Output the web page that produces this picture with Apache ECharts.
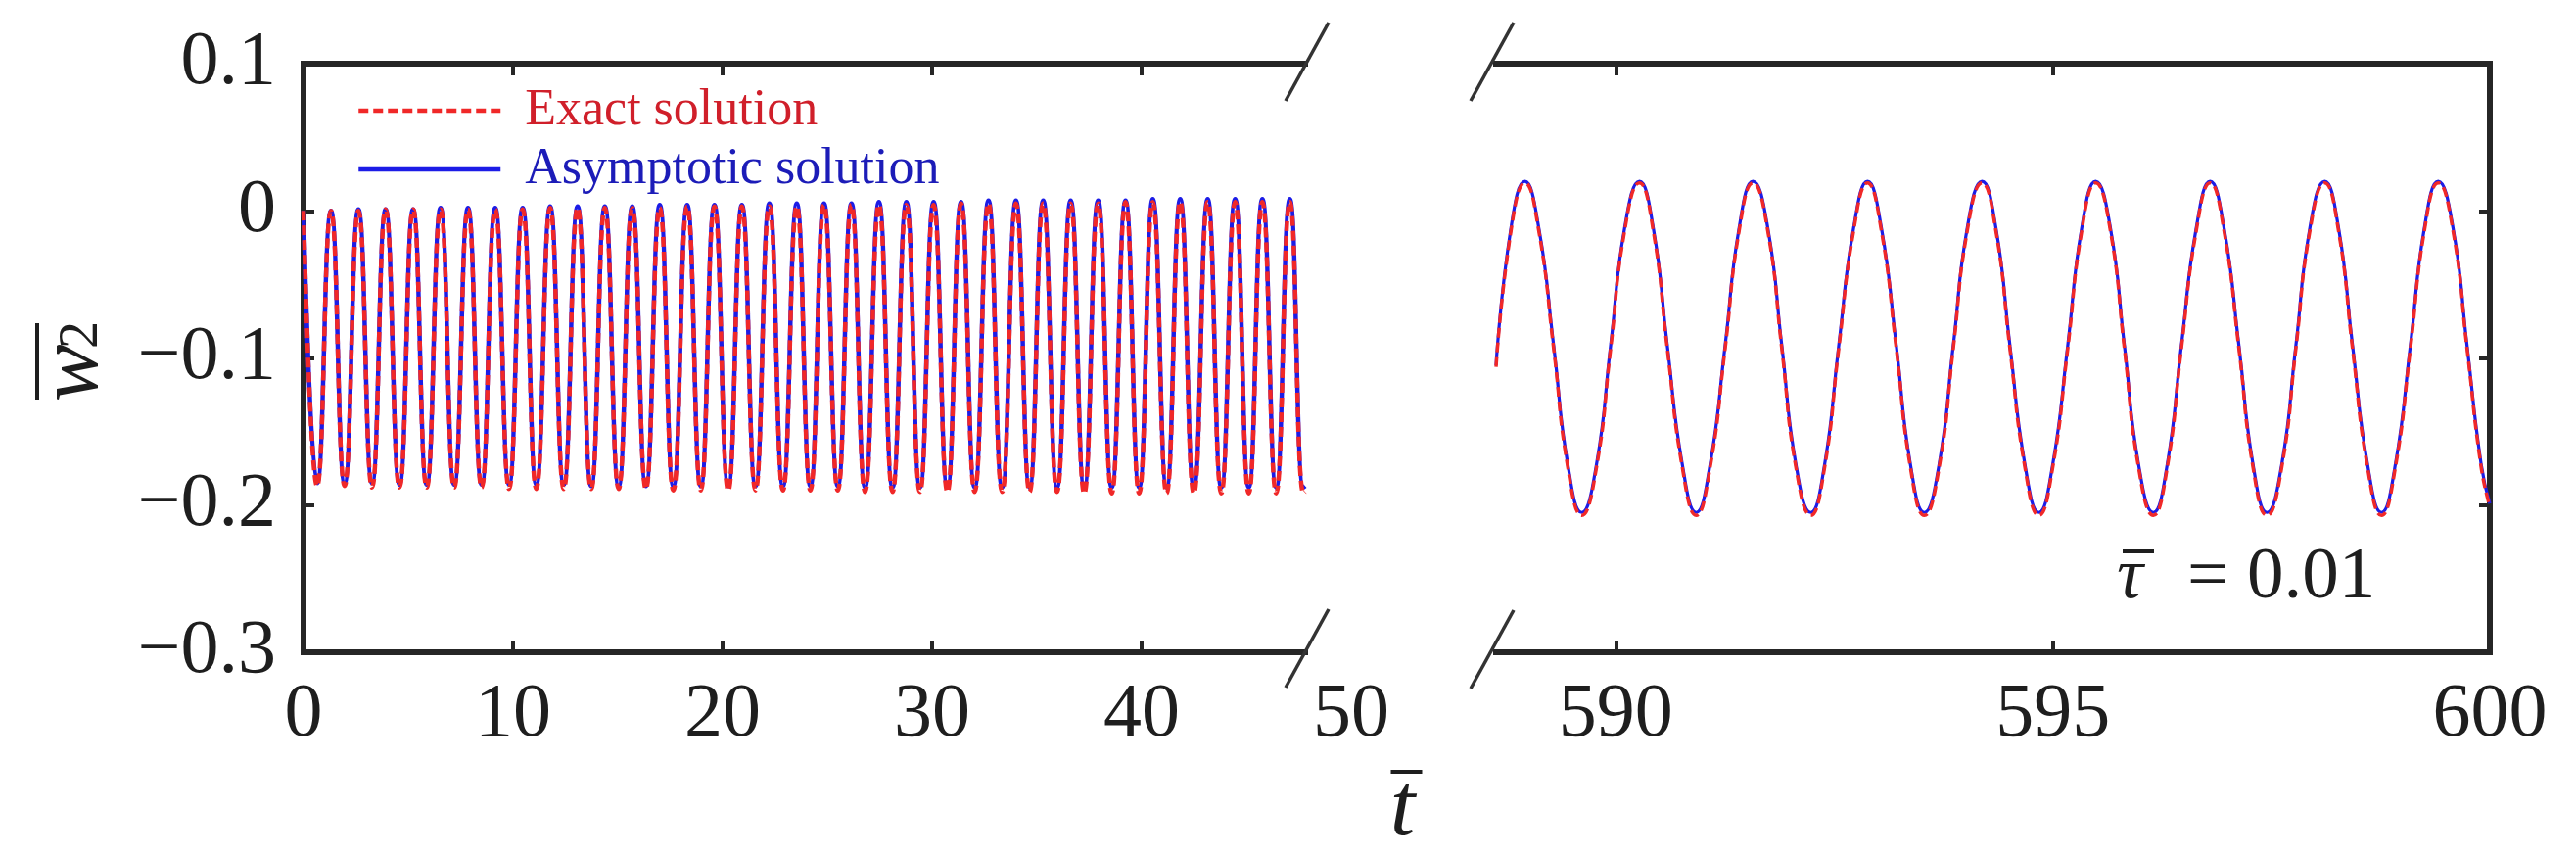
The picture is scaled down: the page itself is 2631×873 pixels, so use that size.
<!DOCTYPE html>
<html>
<head>
<meta charset="utf-8">
<title>w2 - t</title>
<script src="https://cdn.jsdelivr.net/npm/echarts@6.0.0/dist/echarts.min.js"></script>
<style>
  html, body { margin: 0; padding: 0; background: #fff; }
  #chart { width: 2631px; height: 873px; }
</style>
</head>
<body>
<div id="chart"></div>
<script>
// 左段 (0 ~ 47.8)：读取的波峰 / 波谷
const leftT = [
  0.00, 0.65, 1.31, 1.96, 2.62, 3.27, 3.92, 4.58, 5.23, 5.88,
  6.54, 7.19, 7.85, 8.50, 9.15, 9.81, 10.46, 11.11, 11.77, 12.42,
  13.08, 13.73, 14.38, 15.04, 15.69, 16.34, 17.00, 17.65, 18.31, 18.96,
  19.61, 20.27, 20.92, 21.57, 22.23, 22.88, 23.54, 24.19, 24.84, 25.50,
  26.15, 26.80, 27.46, 28.11, 28.77, 29.42, 30.07, 30.73, 31.38, 32.03,
  32.69, 33.34, 34.00, 34.65, 35.30, 35.96, 36.61, 37.26, 37.92, 38.57,
  39.23, 39.88, 40.53, 41.19, 41.84, 42.49, 43.15, 43.80, 44.46, 45.11,
  45.76, 46.42, 47.07, 47.72, 47.80,
]
const leftExact = [
  0.000, -0.187, 0.000, -0.187, 0.000, -0.188, 0.001, -0.188, 0.001, -0.188,
  0.001, -0.188, 0.001, -0.188, 0.001, -0.189, 0.001, -0.189, 0.002, -0.189,
  0.002, -0.189, 0.002, -0.189, 0.002, -0.189, 0.002, -0.190, 0.003, -0.190,
  0.003, -0.190, 0.003, -0.190, 0.003, -0.190, 0.003, -0.190, 0.004, -0.190,
  0.004, -0.191, 0.004, -0.191, 0.004, -0.191, 0.004, -0.191, 0.005, -0.191,
  0.005, -0.191, 0.005, -0.191, 0.005, -0.191, 0.005, -0.192, 0.005, -0.192,
  0.006, -0.192, 0.006, -0.192, 0.006, -0.192, 0.006, -0.192, 0.006, -0.192,
  0.006, -0.192, 0.006, -0.192, -0.191,
]
const leftAsym = [
  0.000, -0.185, 0.000, -0.185, 0.001, -0.185, 0.001, -0.186, 0.001, -0.186,
  0.002, -0.186, 0.002, -0.186, 0.002, -0.186, 0.002, -0.186, 0.003, -0.186,
  0.003, -0.187, 0.003, -0.187, 0.003, -0.187, 0.004, -0.187, 0.004, -0.187,
  0.004, -0.187, 0.004, -0.187, 0.005, -0.187, 0.005, -0.187, 0.005, -0.187,
  0.005, -0.188, 0.006, -0.188, 0.006, -0.188, 0.006, -0.188, 0.006, -0.188,
  0.007, -0.188, 0.007, -0.188, 0.007, -0.188, 0.007, -0.188, 0.007, -0.188,
  0.007, -0.188, 0.008, -0.188, 0.008, -0.188, 0.008, -0.188, 0.008, -0.188,
  0.008, -0.188, 0.008, -0.188, -0.187,
]

// 右段 (588.63 ~ 600)
const rightT = [
  588.63, 588.80, 588.96, 589.12, 589.29, 589.45, 589.61, 589.78,
  589.94, 590.10, 590.27, 590.43, 590.59, 590.76, 590.92, 591.08,
  591.25, 591.41, 591.57, 591.74, 591.90, 592.06, 592.23, 592.39,
  592.55, 592.72, 592.88, 593.04, 593.21, 593.37, 593.53, 593.70,
  593.86, 594.02, 594.19, 594.35, 594.51, 594.68, 594.84, 595.00,
  595.17, 595.33, 595.49, 595.66, 595.82, 595.98, 596.15, 596.31,
  596.47, 596.64, 596.80, 596.96, 597.13, 597.29, 597.45, 597.62,
  597.78, 597.94, 598.11, 598.27, 598.43, 598.60, 598.76, 598.92,
  599.09, 599.25, 599.41, 599.58, 599.74, 599.90, 600.00,
]
const rightExact = [
  -0.106, -0.014, 0.019, -0.014, -0.094, -0.174, -0.207, -0.174,
  -0.094, -0.014, 0.019, -0.014, -0.094, -0.174, -0.207, -0.174,
  -0.094, -0.014, 0.019, -0.014, -0.094, -0.174, -0.207, -0.174,
  -0.094, -0.014, 0.019, -0.014, -0.094, -0.174, -0.207, -0.174,
  -0.094, -0.014, 0.019, -0.014, -0.094, -0.174, -0.207, -0.174,
  -0.094, -0.014, 0.019, -0.014, -0.094, -0.174, -0.207, -0.174,
  -0.094, -0.014, 0.019, -0.014, -0.094, -0.174, -0.207, -0.174,
  -0.094, -0.014, 0.019, -0.014, -0.094, -0.174, -0.207, -0.174,
  -0.094, -0.014, 0.019, -0.014, -0.094, -0.174, -0.201,
]
const rightAsym = [
  -0.105, -0.012, 0.020, -0.012, -0.092, -0.172, -0.205, -0.172,
  -0.092, -0.012, 0.020, -0.012, -0.092, -0.172, -0.205, -0.172,
  -0.092, -0.012, 0.020, -0.012, -0.092, -0.172, -0.205, -0.172,
  -0.092, -0.012, 0.020, -0.012, -0.092, -0.172, -0.205, -0.172,
  -0.092, -0.012, 0.020, -0.012, -0.092, -0.172, -0.205, -0.172,
  -0.092, -0.012, 0.020, -0.012, -0.092, -0.172, -0.205, -0.172,
  -0.092, -0.012, 0.020, -0.012, -0.092, -0.172, -0.205, -0.172,
  -0.092, -0.012, 0.020, -0.012, -0.092, -0.172, -0.205, -0.172,
  -0.092, -0.012, 0.020, -0.012, -0.092, -0.172, -0.199,
]

const leftRange = [0, 47.8]
const rightRange = [588.63, 600]
const yRange = [-0.3, 0.1]
const leftTicks = [0, 10, 20, 30, 40]
const rightTicks = [590, 595, 600]
const seriesNames = ['Exact solution', 'Asymptotic solution']

const AXIS = '#262626'
const TEXT = '#1e1e1e'
const RED = '#f02828'
const BLUE = '#1c1ce6'
const FONT = '"Liberation Serif", "Times New Roman", serif'

const chart = echarts.init(document.getElementById('chart'))

const pairs = (ts, vs) => ts.map((t, i) => [t, vs[i]])

const yLabel = (v) => {
  if (Math.abs(v) < 1e-9) return '0'
  return v < 0 ? '\u2212' + Math.abs(v).toFixed(1) : v.toFixed(1)
}

const axisLine = { show: true, onZero: false, lineStyle: { color: AXIS, width: 6, cap: 'square' } }

const makeX = (grid, pos, range, ticks, showLabel) => ({
  type: 'value',
  gridIndex: grid,
  position: pos,
  min: range[0],
  max: range[1],
  axisLine: axisLine,
  axisTick: { show: true, inside: true, length: 12, customValues: ticks, lineStyle: { color: AXIS, width: 4 } },
  axisLabel: { show: showLabel, customValues: ticks, margin: 26, color: TEXT, fontFamily: FONT, fontSize: 78 },
  splitLine: { show: false },
})

const makeY = (grid, pos, showLabel) => ({
  type: 'value',
  gridIndex: grid,
  position: pos,
  min: yRange[0],
  max: yRange[1],
  interval: 0.1,
  axisLine: axisLine,
  axisTick: { show: true, inside: true, length: 11, lineStyle: { color: AXIS, width: 4 } },
  axisLabel: { show: showLabel, margin: 28, color: TEXT, fontFamily: FONT, fontSize: 78, formatter: yLabel },
  splitLine: { show: false },
})

const line = (name, color, xi, yi, data, dashed, width) => ({
  name: name,
  type: 'line',
  xAxisIndex: xi,
  yAxisIndex: yi,
  data: data,
  smooth: true,
  symbol: 'none',
  clip: true,
  lineStyle: { color: color, width: width, type: dashed ? [10, 5] : 'solid' },
  itemStyle: { color: color },
})

const option = {
  animation: false,
  backgroundColor: '#fff',
  grid: [
    { left: 310, top: 65, width: 1023, height: 601, outerBoundsMode: 'none' },
    { left: 1528, top: 65, width: 1015, height: 601, outerBoundsMode: 'none' },
  ],
  xAxis: [
    makeX(0, 'bottom', leftRange, leftTicks, true),
    makeX(0, 'top', leftRange, leftTicks, false),
    makeX(1, 'bottom', rightRange, rightTicks, true),
    makeX(1, 'top', rightRange, rightTicks, false),
  ],
  yAxis: [makeY(0, 'left', true), makeY(1, 'right', false)],
  legend: {
    orient: 'vertical',
    left: 364,
    top: 87,
    padding: 0,
    itemGap: 8,
    itemWidth: 145,
    itemHeight: 20,
    itemStyle: { opacity: 0 },
    lineStyle: { width: 4.5 },
    textStyle: { fontFamily: FONT, fontSize: 52, padding: [0, 0, 0, 20] },
    data: [
      { name: seriesNames[0], textStyle: { color: '#d01f2a' } },
      { name: seriesNames[1], textStyle: { color: '#1c1cb8' } },
    ],
  },
  series: [
    // 蓝色实线在下，红色虚线在上
    line(seriesNames[1], BLUE, 0, 0, pairs(leftT, leftAsym), false, 4.5),
    line(seriesNames[0], RED, 0, 0, pairs(leftT, leftExact), true, 4.5),
    line(seriesNames[1], BLUE, 2, 1, pairs(rightT, rightAsym), false, 3.2),
    line(seriesNames[0], RED, 2, 1, pairs(rightT, rightExact), true, 3.5),
  ],
}

chart.setOption(option)

// 断轴标记、50 标签与坐标轴名称
const xEnd = chart.convertToPixel({ xAxisIndex: 0 }, leftRange[1])
const xStart = chart.convertToPixel({ xAxisIndex: 2 }, rightRange[0])
const x50 = chart.convertToPixel({ xAxisIndex: 0 }, 50)
const yTop = chart.convertToPixel({ yAxisIndex: 0 }, yRange[1])
const yBot = chart.convertToPixel({ yAxisIndex: 0 }, yRange[0])

const slash = (cx, cy) => ({
  type: 'line',
  shape: { x1: cx - 22, y1: cy + 40, x2: cx + 22, y2: cy - 40 },
  style: { stroke: '#333', lineWidth: 3.5 },
  z: 10,
})

const txt = (text, x, y, font, align) => ({
  type: 'text',
  x: x,
  y: y,
  style: {
    text: text, font: font, fill: TEXT,
    align: align, verticalAlign: 'middle',
    textAlign: align, textVerticalAlign: 'middle',
  },
  z: 10,
})

const bar = (x1, x2, y, w) => ({
  type: 'line',
  shape: { x1: x1, y1: y, x2: x2, y2: y },
  style: { stroke: TEXT, lineWidth: w },
  z: 10,
})

chart.setOption({
  graphic: [
    slash(xEnd + 2, yTop - 2),
    slash(xEnd + 2, yBot - 4),
    slash(xStart - 4, yTop - 2),
    slash(xStart - 4, yBot - 3),
    txt('50', x50, yBot + 26 + 39, '78px ' + FONT, 'center'),
    // x 轴名称 t̄
    {
      type: 'group',
      x: (310 + 2543) / 2 + 6,
      y: 828,
      children: [
        txt('t', 0, 0, 'italic 92px ' + FONT, 'center'),
        bar(-12, 20, -40, 4),
      ],
    },
    // y 轴名称 w̄2（旋转）
    {
      type: 'group',
      x: 85,
      y: 370,
      rotation: Math.PI / 2,
      children: [
        txt('w', -40, -9, 'italic 88px ' + FONT, 'left'),
        txt('2', 14, -1, '56px ' + FONT, 'left'),
        bar(-38, 40, -47, 4),
      ],
    },
    // τ̄ = 0.01
    {
      type: 'group',
      x: 2162,
      y: 590,
      children: [
        txt('\u03c4', 0, 0, 'italic 75px ' + FONT, 'left'),
        bar(6, 38, -27, 4),
        txt('= 0.01', 72, 0, '75px ' + FONT, 'left'),
      ],
    },
  ],
})
</script>
</body>
</html>
